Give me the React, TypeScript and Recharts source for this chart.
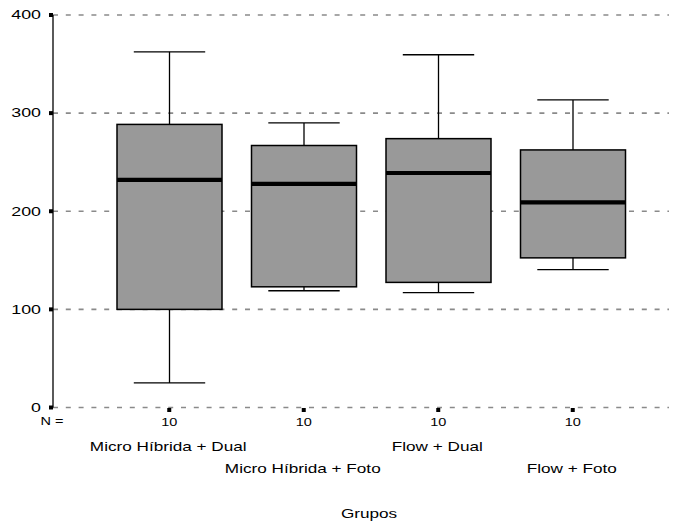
import React from "react";
import { ComposedChart, Bar, XAxis, YAxis, CartesianGrid, Label } from "recharts";

const groups = ["Micro Híbrida + Dual", "Micro Híbrida + Foto", "Flow + Dual", "Flow + Foto"];
const counts = [10, 10, 10, 10];
const mins = [25, 119, 117, 140.5];
const q1s = [100, 123, 127.5, 152.5];
const medians = [232, 228, 239, 209];
const q3s = [288.5, 267, 274, 262.5];
const maxs = [362.5, 290, 359.5, 313.5];
const yTicks = [0, 100, 200, 300, 400];
const xTitle = "Grupos";
const nLabel = "N =";

const data = groups.map((g, i) => ({
  group: g,
  n: counts[i],
  min: mins[i],
  q1: q1s[i],
  median: medians[i],
  q3: q3s[i],
  max: maxs[i],
  range: [mins[i], maxs[i]],
}));

const FONT = "'Liberation Sans', Arial, sans-serif";
const AXIS_X = 53;
const AXIS_Y = 407.5;

function SText({ x, y, anchor = "middle", size = 12, sx = 1.45, children }: any) {
  return (
    <text
      transform={`translate(${x},${y}) scale(${sx},1)`}
      textAnchor={anchor}
      fontSize={size}
      fontFamily={FONT}
      fill="#000"
    >
      {children}
    </text>
  );
}

function BoxShape(props: any) {
  const { x, y, width, height, payload } = props;
  if (!payload) return null;
  const top = Math.min(y, y + height);
  const bottom = Math.max(y, y + height);
  const lo = payload.min;
  const hi = payload.max;
  const pix = (v: number) => bottom - ((v - lo) / (hi - lo)) * (bottom - top);
  const cx = x + width / 2;
  const capHalf = width * 0.34;
  const yQ1 = pix(payload.q1);
  const yQ3 = pix(payload.q3);
  const yMed = pix(payload.median);
  const yMin = pix(payload.min);
  const yMax = pix(payload.max);
  return (
    <g>
      <line x1={cx} x2={cx} y1={yMax} y2={yQ3} stroke="#000" strokeWidth={1.3} />
      <line x1={cx} x2={cx} y1={yQ1} y2={yMin} stroke="#000" strokeWidth={1.3} />
      <line x1={cx - capHalf} x2={cx + capHalf} y1={yMax} y2={yMax} stroke="#000" strokeWidth={1.3} />
      <line x1={cx - capHalf} x2={cx + capHalf} y1={yMin} y2={yMin} stroke="#000" strokeWidth={1.3} />
      <rect x={x} y={yQ3} width={width} height={yQ1 - yQ3} fill="#999999" stroke="#000" strokeWidth={1.5} />
      <line x1={x} x2={x + width} y1={yMed} y2={yMed} stroke="#000" strokeWidth={4.2} />
    </g>
  );
}

function YTick(props: any) {
  const { y, payload } = props;
  return (
    <g>
      <rect x={AXIS_X - 4} y={y - 2} width={4} height={4} fill="#000" />
      <SText x={41} y={y + 4.3} anchor="end" size={12.3} sx={1.45}>
        {payload.value}
      </SText>
    </g>
  );
}

function XTick(props: any) {
  const { x, payload } = props;
  const idx = payload.index ?? props.index ?? 0;
  const d = data[idx];
  const row = idx % 2 === 0 ? 43 : 65.5;
  const y = AXIS_Y;
  return (
    <g>
      <rect x={x - 2} y={y + 0.5} width={4} height={4} fill="#000" />
      <SText x={x} y={y + 18.5} size={10} sx={1.45}>
        {d ? d.n : ""}
      </SText>
      <SText x={x - 1} y={y + row} size={12} sx={1.43}>
        {payload.value}
      </SText>
      {idx === 0 ? (
        <SText x={AXIS_X - 1} y={y + 17.5} size={10} sx={1.45}>
          {nLabel}
        </SText>
      ) : null}
    </g>
  );
}

function XTitle(props: any) {
  const vb = props.viewBox || {};
  const cx = vb.x + vb.width / 2 + 8;
  return (
    <SText x={cx} y={vb.y + 110} size={12} sx={1.43}>
      {xTitle}
    </SText>
  );
}

export default function App() {
  return (
    <div style={{ position: "absolute", left: 0, top: 0, width: 675, height: 522, background: "#fff" }}>
      <ComposedChart
        width={675}
        height={522}
        data={data}
        margin={{ top: 15, right: 6, bottom: 0, left: 0 }}
        barCategoryGap={0}
      >
        <CartesianGrid
          horizontal={true}
          vertical={false}
          stroke="#8a8a8a"
          strokeWidth={1.6}
          strokeDasharray="5 7.8"
        />
        <XAxis
          dataKey="group"
          type="category"
          height={114.5}
          padding={{ left: 49, right: 29 }}
          axisLine={false}
          tickLine={false}
          interval={0}
          tick={<XTick />}
        >
          <Label content={<XTitle />} />
        </XAxis>
        <YAxis
          type="number"
          domain={[0, 400]}
          ticks={yTicks}
          width={53}
          axisLine={{ stroke: "#000", strokeWidth: 1.3 }}
          tickLine={false}
          tick={<YTick />}
        />
        <Bar dataKey="range" barSize={105} shape={<BoxShape />} isAnimationActive={false} />
      </ComposedChart>
    </div>
  );
}
